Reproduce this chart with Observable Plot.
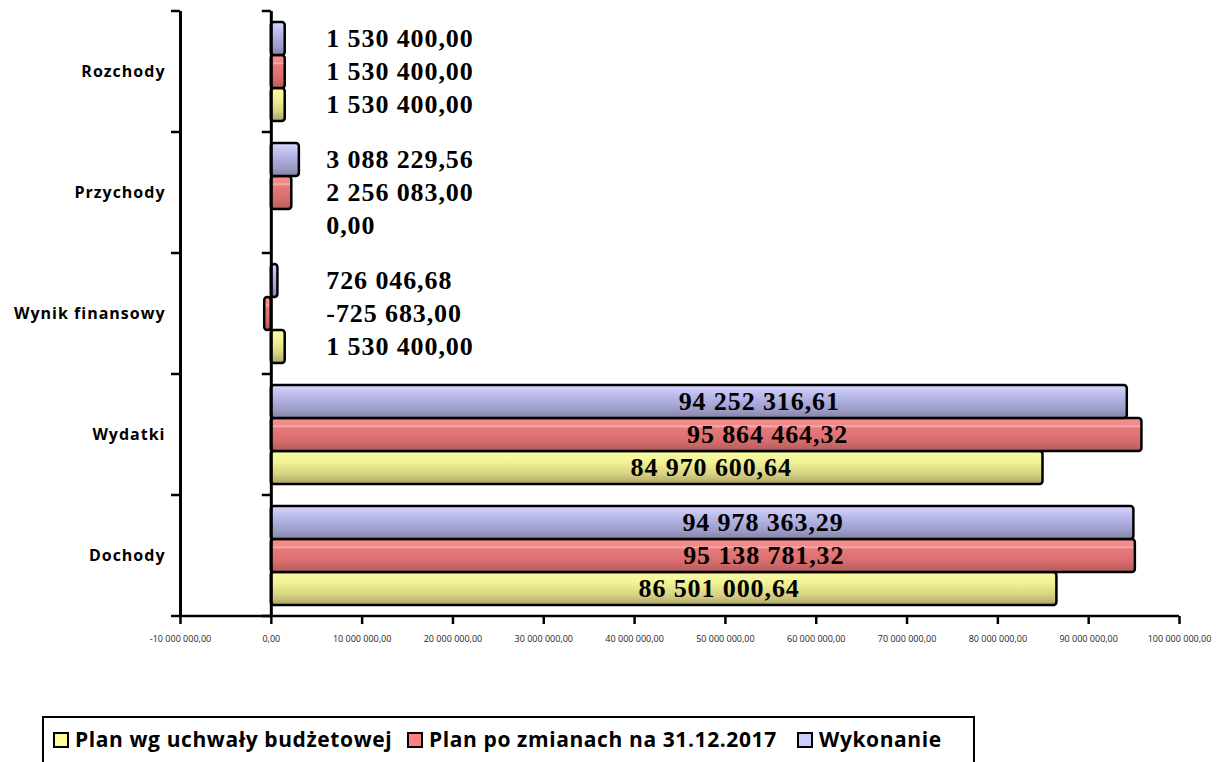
<!DOCTYPE html>
<html><head><meta charset="utf-8">
<script src="https://cdn.jsdelivr.net/npm/d3@7"></script>
<script src="https://cdn.jsdelivr.net/npm/@observablehq/plot@0.6"></script>
<style>
body{margin:0;background:#fff;}
#wrap{position:relative;width:1226px;height:762px;overflow:hidden;background:#fff;}
#chart{position:absolute;left:0;top:0;}
#legend{position:absolute;left:42px;top:716px;width:933px;height:60px;border:2px solid #000;box-sizing:border-box;font-family:"Open Sans",sans-serif;font-weight:700;font-size:21px;letter-spacing:0.6px;color:#000;}
.item{position:absolute;top:8px;white-space:nowrap;line-height:26px;}
.sw{display:inline-block;width:12px;height:12px;border:2px solid #000;margin-right:6px;vertical-align:-1px;}
#chart g[aria-label="text"] text{letter-spacing:0.9px;}
#chart g[aria-label="fy-axis tick label"] text{letter-spacing:1px;}
</style></head>
<body><div id="wrap"><div id="chart"></div><div id="legend"></div></div>
<script>
const categories = ["Dochody", "Wydatki", "Wynik finansowy", "Przychody", "Rozchody"];
const seriesNames = ["Plan wg uchwały budżetowej", "Plan po zmianach na 31.12.2017", "Wykonanie"];
const planUchwala = [86501000.64, 84970600.64, 1530400.00, 0.00, 1530400.00];
const planZmiany = [95138781.32, 95864464.32, -725683.00, 2256083.00, 1530400.00];
const wykonanie = [94978363.29, 94252316.61, 726046.68, 3088229.56, 1530400.00];
const xTicks = [-10000000, 0, 10000000, 20000000, 30000000, 40000000, 50000000, 60000000, 70000000, 80000000, 90000000, 100000000];
const seriesFill = ["url(#gY)", "url(#gR)", "url(#gB)"];
const legendColors = ["#ffff99", "#ff8080", "#ccccff"];

const seriesValues = [planUchwala, planZmiany, wykonanie];
const rows = categories.flatMap((c, i) => seriesNames.map((s, k) => ({category: c, series: s, value: seriesValues[k][i]})));

const pl = d3.formatLocale({decimal: ",", thousands: " ", grouping: [3], currency: ["", ""], minus: "-"});
const fmt = pl.format(",.2f");
const isSmall = d => Math.abs(d.value) < 10000000;
const labelFont = {fontFamily: "'Liberation Serif', 'Times New Roman', serif", fontWeight: "bold", fontSize: 26, fill: "#000"};

const chart = Plot.plot({
  width: 1226, height: 700,
  marginLeft: 180, marginRight: 47, marginTop: 10, marginBottom: 83,
  style: {fontFamily: "'Open Sans', sans-serif", background: "transparent"},
  x: {domain: [-10000000, 100000000]},
  y: {domain: [seriesNames[2], seriesNames[1], seriesNames[0]], paddingInner: 0, paddingOuter: 0.3, axis: null},
  fy: {domain: [...categories].reverse(), padding: 0},
  color: {domain: seriesNames, range: seriesFill},
  marks: [
    Plot.barX(rows, {fy: "category", y: "series", x: "value", fill: "series", stroke: "#000", strokeWidth: 2.5, rx: 3}),
    Plot.ruleX([-10000000, 0], {stroke: "#000", strokeWidth: 3}),
    Plot.text(rows.filter(d => !isSmall(d)), {fy: "category", y: "series", x: d => d.value * 0.57, text: d => fmt(d.value),
      textAnchor: "middle", ...labelFont}),
    Plot.text(rows.filter(isSmall), {fy: "category", y: "series", x: () => 0, text: d => fmt(d.value), dx: 55,
      textAnchor: "start", ...labelFont}),
    Plot.axisFy({anchor: "left", tickSize: 0, tickPadding: 15, fontSize: 16, fontWeight: "bold", label: null, fill: "#000"}),
    Plot.axisX(xTicks, {anchor: "bottom", tickSize: 8, tickPadding: 11, strokeWidth: 2.5, tickFormat: fmt, fontSize: 9, label: null, fill: "#222"})
  ]
});
document.getElementById("chart").appendChild(chart);

// gradients for the bar fills
const svg = d3.select(chart);
const defs = svg.insert("defs", ":first-child");
function grad(id, stops) {
  const g = defs.append("linearGradient").attr("id", id).attr("x1", 0).attr("y1", 0).attr("x2", 0).attr("y2", 1);
  stops.forEach(([o, c]) => g.append("stop").attr("offset", o).attr("stop-color", c));
}
grad("gY", [[0, "#fcfca6"], [0.35, "#f0f094"], [0.7, "#d6d282"], [1, "#aca468"]]);
grad("gR", [[0, "#ff8c8c"], [0.2, "#f08a8a"], [0.25, "#f6b0b0"], [0.3, "#e87a7a"], [0.7, "#d86c6c"], [1, "#b05c5c"]]);
grad("gB", [[0, "#d6d6ff"], [0.4, "#b4b4e6"], [0.75, "#9c9cc8"], [1, "#8484a6"]]);

// category boundary ticks and bottom axis line, from Plot's own scales
const xs = chart.scale("x"), fys = chart.scale("fy");
const edges = fys.domain.map(d => fys.apply(d));
edges.push(fys.apply(fys.domain[fys.domain.length - 1]) + fys.bandwidth);
const g = svg.append("g").attr("stroke", "#000").attr("stroke-width", 2.5);
[xs.apply(-10000000), xs.apply(0)].forEach(x0 => {
  edges.forEach(y => g.append("line").attr("x1", x0 - 9).attr("x2", x0).attr("y1", y).attr("y2", y));
});
const yb = edges[edges.length - 1];
g.append("line").attr("x1", xs.apply(-10000000)).attr("x2", xs.apply(100000000)).attr("y1", yb).attr("y2", yb);

// legend
const legend = d3.select("#legend");
const lefts = [9, 363, 753];
seriesNames.forEach((s, k) => {
  const it = legend.append("div").attr("class", "item").style("left", lefts[k] + "px");
  it.append("span").attr("class", "sw").style("background", legendColors[k]);
  it.append("span").text(s);
});
</script></body></html>
